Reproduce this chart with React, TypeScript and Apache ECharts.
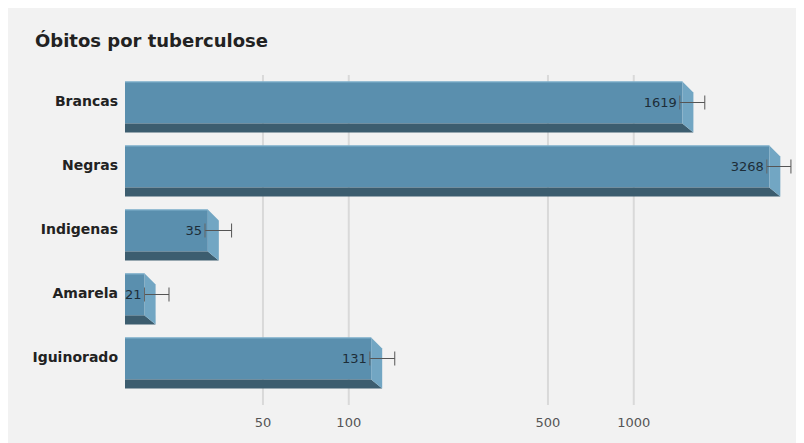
import React, { useEffect, useRef } from "react";
import * as echarts from "echarts";

const title = "Óbitos por tuberculose";
const categories = ["Brancas", "Negras", "Indigenas", "Amarela", "Iguinorado"];
const deaths = [1619, 3268, 35, 21, 131];
const lowerCI = [1450, 2930, 31.3, 19.2, 118.5];
const upperCI = [1775, 3560, 38.8, 23.4, 145];
const tickValues = [50, 100, 500, 1000];

const AXIS_MIN = 16.4;
const AXIS_MAX = 3700;

export default function App() {
  const ref = useRef<HTMLDivElement>(null);

  useEffect(() => {
    document.body.style.overflow = "hidden";
    const chart = echarts.init(ref.current!, null, { renderer: "svg" });
    const font = "DejaVu Sans";

    const barData = deaths.map((v, i) => [v, i]);
    const errData = deaths.map((v, i) => [lowerCI[i], upperCI[i], i, v]);
    const tickData = tickValues.map((v) => [v, 0]);

    const option: any = {
      animation: false,
      backgroundColor: "#f2f2f2",
      title: {
        text: title,
        left: 22,
        top: 18,
        textStyle: { fontFamily: font, fontWeight: "bold", fontSize: 18, color: "#222" },
      },
      grid: { left: 117, top: 67, right: 8.3, bottom: 48, containLabel: false },
      xAxis: {
        type: "log",
        logBase: 10,
        min: AXIS_MIN,
        max: AXIS_MAX,
        axisLabel: { show: false },
        axisLine: { show: false },
        axisTick: { show: false },
        splitLine: { show: false },
        minorSplitLine: { show: false },
      },
      yAxis: {
        type: "category",
        data: categories,
        inverse: true,
        axisLine: { show: false },
        axisTick: { show: false },
        splitLine: { show: false },
        axisLabel: {
          margin: 7,
          fontFamily: font,
          fontWeight: "bold",
          fontSize: 14,
          color: "#222",
          verticalAlign: "bottom",
          lineHeight: 12,
        },
      },
      series: [
        {
          type: "custom",
          z: 1,
          data: tickData,
          encode: { x: 0, y: 1 },
          clip: false,
          renderItem: (params: any, api: any) => {
            const v = api.value(0);
            const x = api.coord([v, 0])[0];
            const cs = params.coordSys;
            const yb = cs.y + cs.height;
            return {
              type: "group",
              children: [
                {
                  type: "line",
                  shape: { x1: x, y1: cs.y, x2: x, y2: yb + 10 },
                  style: { stroke: "#d9d9d9", lineWidth: 2 },
                },
                {
                  type: "text",
                  x: x,
                  y: yb + 27,
                  style: {
                    text: String(v),
                    align: "center",
                    verticalAlign: "middle",
                    fill: "#555",
                    font: `13px '${font}'`,
                  },
                },
              ],
            };
          },
        },
        {
          type: "custom",
          z: 2,
          data: barData,
          encode: { x: 0, y: 1 },
          clip: false,
          renderItem: (params: any, api: any) => {
            const v = api.value(0);
            const idx = api.value(1);
            const end = api.coord([v, idx]);
            const band = api.size([0, 1])[1];
            const h = band * 0.8;
            const top = end[1] - h / 2;
            const bottom = end[1] + h / 2;
            const x0 = params.coordSys.x;
            const xe = end[0];
            const d = 11;
            const sh = 9;
            const xf = xe - d;
            return {
              type: "group",
              children: [
                {
                  type: "rect",
                  shape: { x: x0, y: top, width: xf - x0, height: h - sh },
                  style: { fill: "#5a8fae" },
                },
                {
                  type: "polygon",
                  shape: { points: [[x0, bottom - sh], [xf, bottom - sh], [xe, bottom], [x0, bottom]] },
                  style: { fill: "#3c5d6f" },
                },
                {
                  type: "polygon",
                  shape: { points: [[xf, top], [xe, top + d], [xe, bottom], [xf, bottom - sh]] },
                  style: { fill: "#72a6c3" },
                },
                {
                  type: "line",
                  shape: { x1: x0, y1: top + 0.5, x2: xf, y2: top + 0.5 },
                  style: { stroke: "#8dbbd4", lineWidth: 1 },
                },
              ],
            };
          },
        },
        {
          type: "custom",
          z: 3,
          data: errData,
          encode: { x: [0, 1], y: 2 },
          clip: false,
          renderItem: (params: any, api: any) => {
            const lo = api.value(0);
            const hi = api.value(1);
            const idx = api.value(2);
            const val = api.value(3);
            const pLo = api.coord([lo, idx]);
            const pHi = api.coord([hi, idx]);
            const y = pLo[1] - 4.5;
            const cap = 7;
            return {
              type: "group",
              children: [
                {
                  type: "line",
                  shape: { x1: pLo[0], y1: y, x2: pHi[0], y2: y },
                  style: { stroke: "#555", lineWidth: 1 },
                },
                {
                  type: "line",
                  shape: { x1: pLo[0], y1: y - cap, x2: pLo[0], y2: y + cap },
                  style: { stroke: "#666", lineWidth: 1 },
                },
                {
                  type: "line",
                  shape: { x1: pHi[0], y1: y - cap, x2: pHi[0], y2: y + cap },
                  style: { stroke: "#555", lineWidth: 1 },
                },
                {
                  type: "text",
                  x: pLo[0] - 3,
                  y: y,
                  style: {
                    text: String(val),
                    align: "right",
                    verticalAlign: "middle",
                    fill: "#1d2d38",
                    font: `13px '${font}'`,
                  },
                },
              ],
            };
          },
        },
      ],
    };

    chart.setOption(option);
    return () => chart.dispose();
  }, []);

  return <div ref={ref} style={{ width: 796, height: 435 }} />;
}
